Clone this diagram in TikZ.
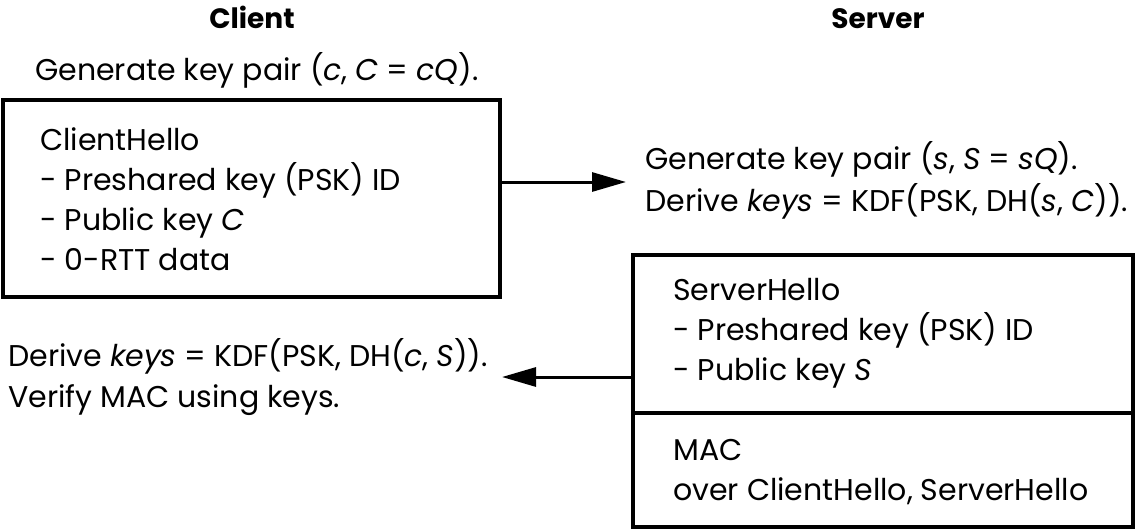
\documentclass[tikz,border=0pt]{standalone}
\usepackage{fontspec}
\setmainfont{Poppins}
\usetikzlibrary{arrows.meta}
\tikzset{
  txt/.style={anchor=base west, inner sep=0pt, font=\fontsize{30}{36}\selectfont},
  head/.style={anchor=base, inner sep=0pt, font=\fontsize{28}{34}\selectfont\bfseries},
  msgbox/.style={draw, line width=3.5pt, inner sep=0pt, rectangle},
  arr/.style={line width=3pt, -{Triangle[length=34pt,width=19pt]}}
}
\begin{document}
\begin{tikzpicture}[x=1pt,y=-1pt]
\useasboundingbox (0,0) rectangle (1137,531);
% headers
\node[head] (client) at (252,28) {Client};
\node[head] (server) at (878,28) {Server};
% client side
\node[txt] (cgen) at (35,80) {Generate key pair (\textit{c}, \textit{C} = \textit{cQ}).};
\node[msgbox, minimum width=497pt, minimum height=197pt] (chbox) at (251.5,198.5) {};
\node[txt] (ch1) at (40,150) {ClientHello};
\node[txt] (ch2) at (40,190) {- Preshared key (PSK) ID};
\node[txt] (ch3) at (40,230) {- Public key \textit{C}};
\node[txt] (ch4) at (40,270) {- 0-RTT data};
\node[txt] (cder) at (8,366) {Derive \textit{keys} = KDF(PSK, DH(\textit{c}, \textit{S})).};
\node[txt] (cver) at (8,407) {Verify MAC using keys.};
% server side
\node[txt] (sgen) at (645,169) {Generate key pair (\textit{s}, \textit{S} = \textit{sQ}).};
\node[txt] (sder) at (645,211) {Derive \textit{keys} = KDF(PSK, DH(\textit{s}, \textit{C})).};
\node[msgbox, minimum width=500pt, minimum height=272pt] (shbox) at (883,391) {};
\draw[line width=3.5pt] (shbox.west |- 0,413) coordinate (divl) -- (shbox.east |- 0,413) coordinate (divr);
\node[txt] (sh1) at (673,300) {ServerHello};
\node[txt] (sh2) at (673,340) {- Preshared key (PSK) ID};
\node[txt] (sh3) at (673,380) {- Public key \textit{S}};
\node[txt] (mac1) at (673,460) {MAC};
\node[txt] (mac2) at (673,500) {over ClientHello, ServerHello};
% connectors
\coordinate (a1e) at (626,182);
\coordinate (a2e) at (502,377);
\draw[arr] ([yshift=16.5pt]chbox.east) -- (a1e);
\draw[arr] ([yshift=14pt]shbox.west) -- (a2e);
\end{tikzpicture}
\end{document}
